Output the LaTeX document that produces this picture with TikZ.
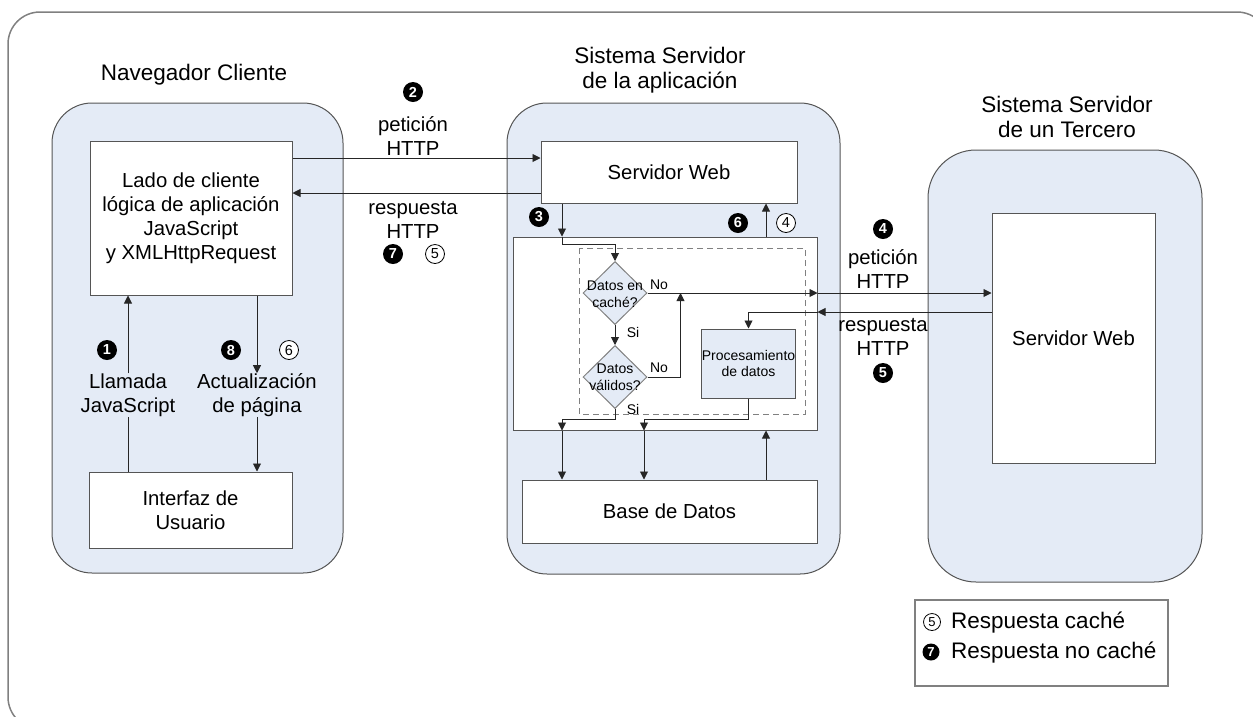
\documentclass[tikz,border=0pt]{standalone}
\usepackage{fontspec}
\setmainfont{Liberation Sans}
\usetikzlibrary{arrows.meta,shapes.geometric,calc}

\definecolor{panelblue}{RGB}{228,235,246}
\definecolor{edgegray}{RGB}{85,85,85}
\definecolor{framegray}{RGB}{128,128,128}

\newcommand\fTitle{\fontsize{22.5}{25}\selectfont}
\newcommand\fBody{\fontsize{20.3}{24}\selectfont}
\newcommand\fSmall{\fontsize{14}{16.5}\selectfont}
\newcommand\fNum{\fontsize{14.5}{14.5}\selectfont}
\newcommand\fLeg{\fontsize{22.5}{25}\selectfont}
\newcommand\fLegNum{\fontsize{13}{13}\selectfont}

\tikzset{
  panel/.style={draw=edgegray, fill=panelblue, rounded corners=40pt, line width=1pt},
  box/.style={draw=edgegray, fill=white, line width=1pt, align=center, font=\fBody, inner sep=0pt},
  bluebox/.style={box, fill=panelblue, font=\fSmall},
  title/.style={align=center, font=\fTitle, inner sep=0pt},
  lbl/.style={align=center, font=\fBody, inner sep=0pt},
  small/.style={align=center, font=\fSmall, inner sep=0pt},
  decide/.style={diamond, draw=framegray, fill=panelblue, line width=1pt, inner sep=0pt,
                 minimum width=64pt, minimum height=63pt},
  bnum/.style={circle, fill=black, text=white, font=\bfseries\fNum, inner sep=0pt, minimum size=20pt},
  onum/.style={circle, draw=black, fill=white, font=\fNum, inner sep=0pt, minimum size=19pt, line width=0.8pt},
  link/.style={draw=black!85, line width=0.9pt},
  arr/.style={link, -{Triangle[length=8pt,width=8pt]}},
}

\begin{document}
\begin{tikzpicture}[x=1pt,y=-1pt]
\useasboundingbox (0,0) rectangle (1253,716);
\clip (0,0) rectangle (1253,716);

% outer frame
\draw[framegray, line width=1.5pt, rounded corners=32pt] (8,12) rectangle (1269,729);

% panels
\node[panel, minimum width=291pt, minimum height=470pt] (pL) at (197.5,338) {};
\node[panel, minimum width=333pt, minimum height=471pt] (pM) at (673.5,338.5) {};
\node[panel, rounded corners=48pt, minimum width=274pt, minimum height=432pt] (pR) at (1065,366) {};

% panel titles
\node[title] (tL) at (194,75) {Navegador Cliente};
\node[title] (tM) at (660,70) {Sistema Servidor\\de la aplicación};
\node[title] (tR) at (1067,117) {Sistema Servidor\\de un Tercero};

% client side
\node[box, minimum width=202pt, minimum height=154pt] (lado) at (191,218)
  {Lado de cliente\\lógica de aplicación\\JavaScript\\y XMLHttpRequest};
\node[box, minimum width=203pt, minimum height=76pt] (ui) at (190.5,510) {Interfaz de\\Usuario};

\node[lbl] (call) at (128,395) {Llamada\\JavaScript};
\node[lbl] (upd) at (257,395) {Actualización\\de página};
\node[bnum] (n1) at (107,350) {1};
\node[bnum] (n8) at (231,350) {8};
\node[onum] (o6) at (289,350) {6};

\draw[link] (ui.north -| call) -- (call.south);
\draw[arr] (call.north) -- (lado.south -| call);
\draw[arr] (lado.south -| upd) -- (upd.north);
\draw[arr] (upd.south) -- (ui.north -| upd);

% application server
\node[box, minimum width=256pt, minimum height=62pt] (sw) at (669,172) {Servidor Web};
\node[box, minimum width=304pt, minimum height=193pt] (inner) at (665,333.5) {};
\draw[framegray, dashed, dash pattern=on 6pt off 4pt, line width=1pt] (579,248) rectangle (805,414);
\node[bluebox, minimum width=93pt, minimum height=69pt] (proc) at (748.5,363.5) {Procesamiento\\de datos};
\node[box, minimum width=295pt, minimum height=63pt] (db) at (669.5,511.5) {Base de Datos};

\node[decide] (d1) at (615,293) {};
\node[small] (d1t) at (615,294) {Datos en\\caché?};
\node[decide] (d2) at (615,377) {};
\node[small] (d2t) at (615,377) {Datos\\válidos?};

\node[small] (si1) at (633,332) {Si};
\node[small] (si2) at (633,409) {Si};
\node[small] (no1) at (659,285) {No};
\node[small] (no2) at (659,368) {No};

\node[bnum] (n3) at (539,217) {3};
\node[bnum] (n6) at (738,223) {6};
\node[onum] (o4) at (786,223) {4};

% HTTP exchange with the client
\node[bnum] (n2) at (413,92) {2};
\node[lbl] (req1) at (413,136) {petición\\HTTP};
\node[lbl] (resp1) at (413,220) {respuesta\\HTTP};
\node[bnum] (n7) at (393,254) {7};
\node[onum] (o5) at (435,254) {5};

\draw[arr] (lado.east |- 0,158) -- (sw.west |- 0,158);
\draw[arr] (sw.west |- 0,193) -- (lado.east |- 0,193);

% flow inside the application server
\draw[arr] (sw.south -| 562,0) -- (inner.north -| 562,0);
\draw[arr] (inner.north -| 562,0) -- ++(0,8) -| (d1.north);
\draw[arr] (d1.south) -- (d2.north);
\draw[arr] (d2.east) -| ($(d1.east)+(33,0)$);
\draw[arr] (d2.south) -- ++(0,10) -| (inner.south -| 562,0);
\draw[arr] (inner.south -| 562,0) -- (db.north -| 562,0);
\draw[arr] (proc.south) -- ++(0,21) -| (inner.south -| 644,0);
\draw[arr] (inner.south -| 644,0) -- (db.north -| 644,0);
\draw[arr] (db.north -| 766,0) -- (inner.south -| 766,0);
\draw[arr] (inner.north -| 766,0) -- (sw.south -| 766,0);

% third-party server
\node[box, minimum width=163pt, minimum height=250pt] (srv3) at (1073.5,338) {Servidor Web};
\node[bnum] (n4) at (883,229) {4};
\node[lbl] (req2) at (883,269) {petición\\HTTP};
\node[lbl] (resp2) at (883,337) {respuesta\\HTTP};
\node[bnum] (n5) at (883,373) {5};

\draw[arr] (d1.east) -- (inner.east |- d1.east);
\draw[arr] (inner.east |- d1.east) -- (srv3.west |- d1.east);
\draw[arr] (srv3.west |- 0,312) -- (inner.east |- 0,312);
\draw[arr] (inner.east |- 0,312) -| (proc.north);

% legend
\node[draw=framegray, line width=1.5pt, fill=white, minimum width=253pt, minimum height=86pt] (leg) at (1041.5,643) {};
\node[onum, minimum size=17pt, font=\fLegNum] (lo5) at (932,622) {5};
\node[anchor=west, font=\fLeg, inner sep=0pt] (lt1) at (951,623) {Respuesta caché};
\node[bnum, minimum size=17pt, font=\bfseries\fLegNum] (lb7) at (931,652) {7};
\node[anchor=west, font=\fLeg, inner sep=0pt] (lt2) at (951,653) {Respuesta no caché};
\end{tikzpicture}
\end{document}
